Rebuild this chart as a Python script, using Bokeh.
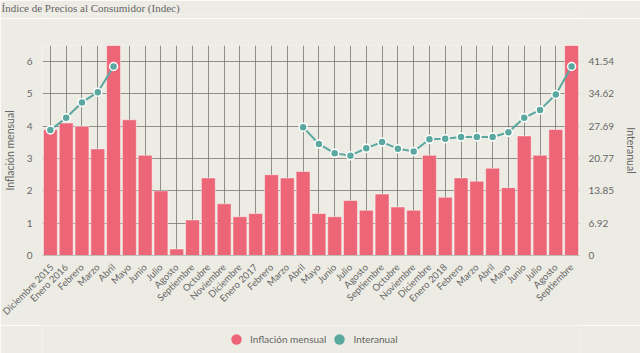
from bokeh.plotting import figure
from bokeh.layouts import column
from bokeh.models import Range1d, LinearAxis, FixedTicker, Legend, LegendItem, ColumnDataSource
from bokeh.embed import file_html
from bokeh.resources import INLINE

months = ["Diciembre 2015", "Enero 2016", "Febrero", "Marzo", "Abril", "Mayo", "Junio",
          "Julio", "Agosto", "Septiembre", "Octubre", "Noviembre", "Diciembre",
          "Enero 2017", "Febrero", "Marzo", "Abril", "Mayo", "Junio", "Julio", "Agosto",
          "Septiembre", "Octubre", "Noviembre", "Diciembre", "Enero 2018", "Febrero",
          "Marzo", "Abril", "Mayo", "Junio", "Julio", "Agosto", "Septiembre"]
mensual = [3.9, 4.1, 4.0, 3.3, 6.5, 4.2, 3.1, 2.0, 0.2, 1.1, 2.4, 1.6, 1.2, 1.3, 2.5, 2.4,
           2.6, 1.3, 1.2, 1.7, 1.4, 1.9, 1.5, 1.4, 3.1, 1.8, 2.4, 2.3, 2.7, 2.1, 3.7, 3.1,
           3.9, 6.5]
nan = float("nan")
interanual = [26.9, 29.5, 32.8, 35.0, 40.5, nan, nan, nan, nan, nan, nan, nan, nan, nan,
              nan, nan, 27.5, 23.9, 21.9, 21.4, 23.0, 24.3, 22.9, 22.3, 24.9, 25.0, 25.4,
              25.4, 25.4, 26.4, 29.5, 31.2, 34.5, 40.5]
left_ticks = [0, 1, 2, 3, 4, 5, 6]
right_ticks = [0, 6.92, 13.85, 20.77, 27.69, 34.62, 41.54]
right_labels = ["0", "6.92", "13.85", "20.77", "27.69", "34.62", "41.54"]
series_names = ["Inflación mensual", "Interanual"]
chart_title = "Índice de Precios al Consumidor (Indec)"

BG = "#edece4"
PINK = "#ec6677"
TEAL = "#5ba8a1"
GRID = "#77776f"
TXT = "#666666"
FONT = "Lato"

xs = list(range(len(months)))
src = ColumnDataSource(dict(x=xs, m=mensual, ia=interanual))

# title strip
tf = figure(width=640, height=18, output_backend="svg", toolbar_location=None,
            x_range=Range1d(0, 1), y_range=Range1d(0, 1),
            x_axis_location=None, y_axis_location=None, min_border=0)
tf.background_fill_color = BG
tf.border_fill_color = BG
tf.outline_line_color = None
tf.grid.visible = False
tf.title.text = chart_title
tf.title.text_font = "Liberation Serif"
tf.title.text_font_size = "11px"
tf.title.text_font_style = "normal"
tf.title.text_color = TXT
tf.title.offset = -41
tf.title.standoff = 0
tf.title.vertical_align = "middle"

p = figure(width=640, height=307, output_backend="svg", toolbar_location=None,
           x_range=Range1d(-0.5, len(months) - 0.5), y_range=Range1d(0, 6.5),
           min_border_left=42, min_border_right=52, min_border_top=27,
           min_border_bottom=70)
p.extra_y_ranges = {"ia": Range1d(0, 45)}
p.background_fill_color = BG
p.border_fill_color = BG
p.outline_line_color = None

p.vbar(x="x", top="m", width=0.88, bottom=0, source=src, fill_color=PINK,
       line_color="white", line_alpha=0.45, line_width=1)
p.line(x="x", y="ia", source=src, y_range_name="ia", line_color=TEAL, line_width=2)
p.scatter(x="x", y="ia", source=src, y_range_name="ia", size=8, fill_color=TEAL,
          line_color="white", line_width=1.5)

# x axis
xa = p.xaxis[0]
xa.ticker = FixedTicker(ticks=xs)
xa.major_label_overrides = {i: m for i, m in enumerate(months)}
xa.major_label_orientation = 0.785
xa.major_label_text_font = FONT
xa.major_label_text_font_size = "9.5px"
xa.major_label_text_color = TXT
xa.major_tick_line_color = None
xa.minor_tick_line_color = None
xa.axis_line_color = "#bdbdb5"
xa.major_label_standoff = 4

ya = p.yaxis[0]
ya.ticker = FixedTicker(ticks=left_ticks)
ya.axis_label = series_names[0]
ya.axis_label_text_font = FONT
ya.axis_label_text_font_size = "10.5px"
ya.axis_label_text_font_style = "normal"
ya.axis_label_text_color = TXT
ya.axis_label_standoff = 8
ya.major_label_text_font = FONT
ya.major_label_text_font_size = "10px"
ya.major_label_text_color = TXT
ya.major_label_standoff = 4
ya.axis_line_color = None
ya.major_tick_line_color = None
ya.minor_tick_line_color = None

ra = LinearAxis(y_range_name="ia", ticker=FixedTicker(ticks=right_ticks))
ra.major_label_overrides = {t: l for t, l in zip(right_ticks, right_labels)}
ra.axis_label = series_names[1]
ra.axis_label_text_font = FONT
ra.axis_label_text_font_size = "10.5px"
ra.axis_label_text_font_style = "normal"
ra.axis_label_text_color = TXT
ra.axis_label_standoff = 8
ra.major_label_text_font = FONT
ra.major_label_text_font_size = "10px"
ra.major_label_text_color = TXT
ra.major_label_standoff = 3
ra.axis_line_color = None
ra.major_tick_line_color = None
ra.minor_tick_line_color = None
p.add_layout(ra, "right")

p.xgrid.grid_line_color = GRID
p.xgrid.grid_line_alpha = 0.8
p.ygrid.grid_line_color = GRID
p.ygrid.grid_line_alpha = 0.8

# legend strip below the chart, with circle glyphs
lg = figure(width=640, height=28, output_backend="svg", toolbar_location=None,
            x_range=Range1d(0, 1), y_range=Range1d(0, 1),
            x_axis_location=None, y_axis_location=None, min_border=0)
lg.background_fill_color = BG
lg.border_fill_color = BG
lg.outline_line_color = None
lg.grid.visible = False
dummy = ColumnDataSource(dict(x=[nan], y=[nan]))
r1 = lg.scatter(x="x", y="y", source=dummy, size=12, fill_color=PINK, line_color=None)
r2 = lg.scatter(x="x", y="y", source=dummy, size=12, fill_color=TEAL, line_color=None)
legend = Legend(items=[LegendItem(label=series_names[0], renderers=[r1]),
                       LegendItem(label=series_names[1], renderers=[r2])],
                orientation="horizontal", location=(181, 1),
                glyph_width=26, glyph_height=26, spacing=0, padding=0, margin=0,
                label_text_font=FONT, label_text_font_size="10px",
                label_text_color=TXT, border_line_color=None,
                background_fill_alpha=0, label_standoff=1)
lg.add_layout(legend)

layout = column(tf, p, lg, spacing=0)
open("out.html", "w").write(file_html(layout, INLINE))
